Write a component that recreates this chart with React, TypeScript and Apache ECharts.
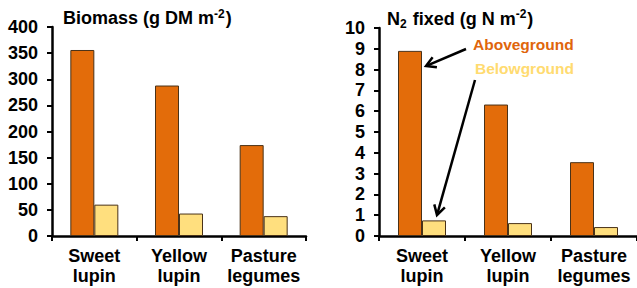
import React, { useEffect, useRef } from "react";
import * as echarts from "echarts";

const categories = ["Sweet\nlupin", "Yellow\nlupin", "Pasture\nlegumes"];
const biomassAbove = [356, 288, 174];
const biomassBelow = [60, 43, 38];
const n2Above = [8.9, 6.32, 3.55];
const n2Below = [0.75, 0.62, 0.43];
const biomassTicks = { min: 0, max: 400, interval: 50 };
const n2Ticks = { min: 0, max: 10, interval: 1 };

const FONT = "Liberation Sans, Arial, Helvetica, sans-serif";
const ORANGE = "#E36C0A";
const YELLOW = "#FFDF7E";
const BORDER = "#4a3218";

function arrow(tail: number[], tip: number[]) {
  const dx = tip[0] - tail[0];
  const dy = tip[1] - tail[1];
  const len = Math.sqrt(dx * dx + dy * dy);
  const ux = dx / len;
  const uy = dy / len;
  const h = 11;
  const a = Math.PI / 6;
  const bx = -ux, by = -uy;
  const p1 = [tip[0] + h * (bx * Math.cos(a) - by * Math.sin(a)), tip[1] + h * (bx * Math.sin(a) + by * Math.cos(a))];
  const p2 = [tip[0] + h * (bx * Math.cos(-a) - by * Math.sin(-a)), tip[1] + h * (bx * Math.sin(-a) + by * Math.cos(-a))];
  return [
    { type: "line", shape: { x1: tail[0], y1: tail[1], x2: tip[0] - ux * 1, y2: tip[1] - uy * 1 }, style: { stroke: "#000", lineWidth: 2.5 } },
    { type: "polyline", shape: { points: [p1, tip, p2] }, style: { stroke: "#000", lineWidth: 2.5, fill: null } },
  ];
}

export default function App() {
  const ref = useRef<HTMLDivElement>(null);
  useEffect(() => {
    if (!ref.current) return;
    const chart = echarts.init(ref.current, null, { renderer: "svg" });
    const axisLabel = { fontFamily: FONT, fontWeight: "bold", fontSize: 18, color: "#000" };
    const xAxisBase = {
      type: "category",
      data: categories,
      axisLine: { lineStyle: { color: "#000", width: 2.5 } },
      axisTick: { show: true, length: 5, lineStyle: { color: "#000", width: 2 } },
      axisLabel: { ...axisLabel, lineHeight: 20, margin: 10, interval: 0 },
    };
    const yAxisBase = {
      type: "value",
      axisLine: { show: true, lineStyle: { color: "#000", width: 2.5 } },
      axisTick: { show: true, length: 5, lineStyle: { color: "#000", width: 2 } },
      splitLine: { show: false },
    };
    const barBase = { type: "bar", barWidth: 24, barGap: "0%" };
    const titleRich = {
      t: { fontFamily: FONT, fontWeight: "bold", fontSize: 18, color: "#000" },
      sup: { fontFamily: FONT, fontWeight: "bold", fontSize: 12, color: "#000", verticalAlign: "top", padding: [0, 1, 8, 0] },
      sub: { fontFamily: FONT, fontWeight: "bold", fontSize: 12, color: "#000", padding: [10, 1, 0, 0] },
    };
    chart.setOption({
      animation: false,
      backgroundColor: "#fff",
      title: [
        {
          text: "{t|Biomass (g DM m}{sup|-2}{t|)}",
          left: 58,
          top: 3,
          textStyle: { rich: titleRich },
        },
        {
          text: "{t|N}{sub|2}{t| fixed (g N m}{sup|-2}{t|)}",
          left: 382,
          top: 3,
          textStyle: { rich: titleRich },
        },
      ],
      grid: [
        { left: 52, right: 331, top: 27, bottom: 52 },
        { left: 379, right: 0, top: 28, bottom: 52 },
      ],
      xAxis: [
        { ...xAxisBase, gridIndex: 0 },
        { ...xAxisBase, gridIndex: 1 },
      ],
      yAxis: [
        { ...yAxisBase, gridIndex: 0, ...biomassTicks, axisLabel: { ...axisLabel, margin: 14 } },
        { ...yAxisBase, gridIndex: 1, ...n2Ticks, axisLabel: { ...axisLabel, margin: 14 } },
      ],
      series: [
        { ...barBase, name: "Aboveground", xAxisIndex: 0, yAxisIndex: 0, data: biomassAbove, itemStyle: { color: ORANGE, borderColor: BORDER, borderWidth: 1 } },
        { ...barBase, name: "Belowground", xAxisIndex: 0, yAxisIndex: 0, data: biomassBelow, itemStyle: { color: YELLOW, borderColor: BORDER, borderWidth: 1 } },
        { ...barBase, name: "Aboveground", xAxisIndex: 1, yAxisIndex: 1, data: n2Above, itemStyle: { color: ORANGE, borderColor: BORDER, borderWidth: 1 } },
        { ...barBase, name: "Belowground", xAxisIndex: 1, yAxisIndex: 1, data: n2Below, itemStyle: { color: YELLOW, borderColor: BORDER, borderWidth: 1 } },
      ],
      graphic: [
        { type: "text", x: 473, y: 36, style: { text: "Aboveground", fill: "#E0650B", font: `bold 15.5px ${FONT}` } },
        { type: "text", x: 475, y: 60, style: { text: "Belowground", fill: "#FFDB70", font: `bold 15.5px ${FONT}` } },
        ...arrow([466, 49], [426, 66]),
        ...arrow([475, 80], [437, 215]),
      ],
    });
    return () => chart.dispose();
  }, []);
  return <div ref={ref} style={{ position: "fixed", left: 0, top: 0, width: 637, height: 288 }} />;
}
